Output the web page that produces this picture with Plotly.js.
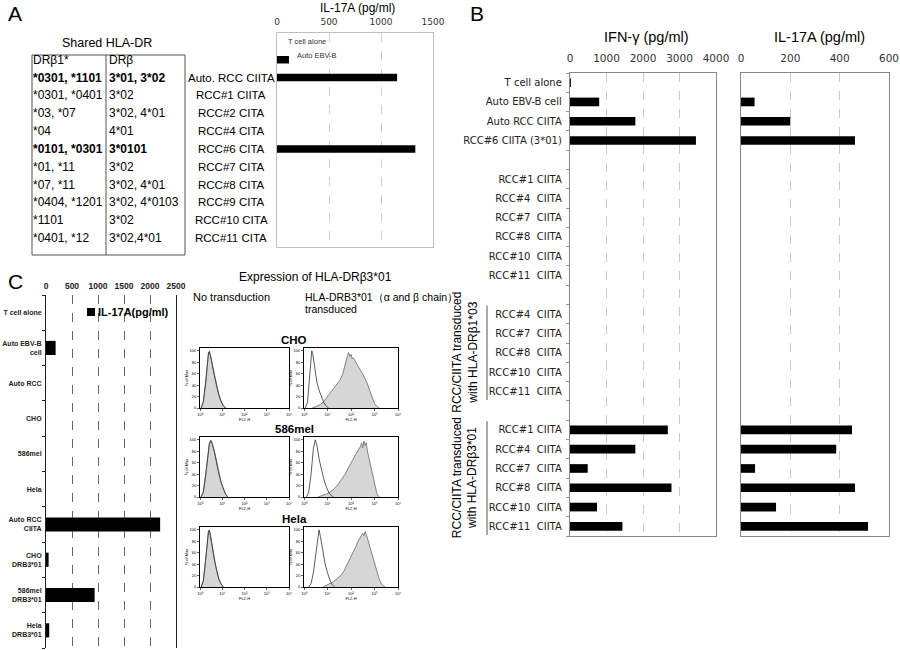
<!DOCTYPE html>
<html><head><meta charset="utf-8">
<script src="https://cdn.plot.ly/plotly-3.0.1.min.js"></script>
<style>body{margin:0;background:#fff}#chart{width:900px;height:650px}</style>
</head><body><div id="chart"></div>
<script>
// ---------------- Panel A data ----------------
const aCategories = ['T cell alone','Auto EBV-B','Auto. RCC CIITA','RCC#1 CIITA','RCC#2 CITA','RCC#4 CITA','RCC#6 CITA','RCC#7 CITA','RCC#8 CITA','RCC#9 CITA','RCC#10 CITA','RCC#11 CITA'];
const aIL17 = [0,115,1155,0,0,0,1330,0,0,0,0,0];
const aTicks = [0,500,1000,1500];
const aInsideLabels = ['T cell alone','Auto EBV-B'];
const tableHeader = ['DRβ1*','DRβ'];
const tableDRB1 = ['*0301, *1101','*0301, *0401','*03, *07','*04','*0101, *0301','*01, *11','*07, *11','*0404, *1201','*1101','*0401, *12'];
const tableDRB = ['3*01, 3*02','3*02','3*02, 4*01','4*01','3*0101','3*02','3*02, 4*01','3*02, 4*0103','3*02','3*02,4*01'];
const tableBoldRows = [0,4];

// ---------------- Panel B data ----------------
const S = '\u00a0\u00a0';
const bLabels = ['T cell alone','Auto EBV-B cell','Auto RCC CIITA','RCC#6 CIITA (3*01)','',
  'RCC#1 CIITA','RCC#4'+S+'CIITA','RCC#7'+S+'CIITA','RCC#8'+S+'CIITA','RCC#10'+S+'CIITA','RCC#11'+S+'CIITA','',
  'RCC#4'+S+'CIITA','RCC#7'+S+'CIITA','RCC#8'+S+'CIITA','RCC#10'+S+'CIITA','RCC#11'+S+'CIITA','',
  'RCC#1 CIITA','RCC#4'+S+'CIITA','RCC#7'+S+'CIITA','RCC#8'+S+'CIITA','RCC#10'+S+'CIITA','RCC#11'+S+'CIITA'];
const bIFNg = [25,800,1790,3450,null,0,0,0,0,0,0,null,0,0,0,0,0,null,2680,1790,485,2780,740,1435];
const bIL17 = [0,55,200,462,null,0,0,0,0,0,0,null,0,0,0,0,0,null,450,386,57,462,142,515];
const bIFNgTicks = [0,1000,2000,3000,4000];
const bIL17Ticks = [0,200,400,600];
const bGroupText = ['RCC/CIITA transduced<br>with HLA-DRβ1*03','RCC/CIITA transduced<br>with HLA-DRβ3*01'];
const bGroupFirst = [12,18];
const bGroupLast = [16,23];

// ---------------- Panel C data ----------------
const cCategories = ['T cell alone','Auto EBV-B<br>cell','Auto RCC','CHO','586mel','Hela','Auto RCC<br>CIITA','CHO<br>DRB3*01','586mel<br>DRB3*01','Hela<br>DRB3*01'];
const cIL17 = [0,185,0,0,0,0,2195,50,935,62];
const cTicks = [0,500,1000,1500,2000,2500];
const cellLines = ['CHO','586mel','Hela'];

// flow histograms (x = log10 FL2-H, y = % of max)
const choNoX   = [0.05,0.15,0.25,0.32,0.38,0.42,0.48,0.55,0.65,0.75,0.85,0.95,1.05,1.15];
const choNoY   = [0,10,40,75,95,100,92,78,58,40,24,12,4,0];
const choNoCtl = [0,12,44,80,97,98,90,75,55,38,22,11,4,0];
const melNoX   = [0.05,0.15,0.25,0.35,0.42,0.48,0.55,0.65,0.75,0.85,0.95,1.05,1.15,1.25];
const melNoY   = [0,8,35,70,92,100,95,80,60,42,26,14,5,0];
const melNoCtl = [0,9,38,72,94,98,92,78,58,40,25,13,5,0];
const helaNoX  = [0.05,0.15,0.25,0.32,0.38,0.42,0.48,0.55,0.65,0.75,0.85,0.95,1.05];
const helaNoY  = [0,10,45,80,97,100,90,72,48,28,14,5,0];
const helaNoCtl= [0,11,47,82,98,99,88,70,46,27,13,5,0];

const choTdX   = [0.35,0.5,0.7,0.85,1.0,1.15,1.3,1.45,1.55,1.65,1.72,1.8,1.85,1.9,1.95,2.0,2.05,2.1,2.2,2.3,2.4,2.5,2.6,2.7,2.8,2.9,3.0,3.1,3.2];
const choTdY   = [0,2,6,12,20,30,38,45,50,60,72,85,92,97,90,94,86,88,80,74,66,60,52,42,30,18,8,3,0];
const choCtlX  = [0.05,0.15,0.22,0.28,0.33,0.37,0.45,0.55,0.65,0.75,0.85,0.95,1.05];
const choCtlY  = [0,10,45,85,100,95,70,45,30,18,9,3,0];
const melTdX   = [0.6,0.8,1.0,1.15,1.3,1.45,1.6,1.75,1.9,2.0,2.1,2.2,2.3,2.4,2.45,2.5,2.55,2.6,2.65,2.7,2.8,2.9,3.0,3.1,3.2];
const melTdY   = [0,3,6,10,15,22,30,40,52,60,68,76,82,88,95,86,98,90,95,80,60,40,20,6,0];
const melCtlX  = [0.1,0.2,0.3,0.4,0.48,0.55,0.65,0.75,0.85,0.95,1.05,1.15,1.25];
const melCtlY  = [0,8,40,85,100,90,65,45,30,18,8,3,0];
const helaTdX  = [0.8,1.0,1.2,1.4,1.5,1.6,1.7,1.8,1.9,2.0,2.1,2.2,2.3,2.4,2.5,2.55,2.6,2.65,2.7,2.8,2.9,3.0,3.1,3.2,3.3,3.45];
const helaTdY  = [0,4,8,14,18,22,28,36,44,52,60,70,80,88,94,90,97,92,85,72,58,42,28,14,5,0];
const helaCtlX = [0.2,0.3,0.4,0.5,0.58,0.64,0.7,0.8,0.9,1.0,1.1,1.2,1.3];
const helaCtlY = [0,6,25,60,90,100,88,60,40,25,12,4,0];

// ---------------- build ----------------
const W = 900, H = 650;
const px = v => v / W, py = v => 1 - v / H;
const idx = arr => arr.map((_, i) => i);
const ARIAL = 'Liberation Sans, Arial, sans-serif';
const VERD = 'DejaVu Sans, Verdana, sans-serif';

const traces = [];
traces.push({type:'bar', orientation:'h', x:aIL17, y:idx(aCategories), xaxis:'x', yaxis:'y',
  marker:{color:'#000'}, width:0.42, hoverinfo:'skip'});
traces.push({type:'bar', orientation:'h', x:bIFNg, y:idx(bLabels), xaxis:'x2', yaxis:'y2',
  marker:{color:'#000'}, width:0.45, hoverinfo:'skip'});
traces.push({type:'bar', orientation:'h', x:bIL17, y:idx(bLabels), xaxis:'x3', yaxis:'y3',
  marker:{color:'#000'}, width:0.45, hoverinfo:'skip'});
traces.push({type:'bar', orientation:'h', x:cIL17, y:idx(cCategories), xaxis:'x4', yaxis:'y4',
  marker:{color:'#000'}, width:0.4, hoverinfo:'skip'});

const hist = [
  [choNoX, choNoY, choNoX, choNoCtl],
  [choTdX, choTdY, choCtlX, choCtlY],
  [melNoX, melNoY, melNoX, melNoCtl],
  [melTdX, melTdY, melCtlX, melCtlY],
  [helaNoX, helaNoY, helaNoX, helaNoCtl],
  [helaTdX, helaTdY, helaCtlX, helaCtlY]
];
const colX = [[200,289],[304,398]];
const rowY = [[348,408],[437,497],[527,587]];

const layout = {
  width:W, height:H, margin:{l:0,r:0,t:0,b:0}, paper_bgcolor:'#fff', plot_bgcolor:'rgba(0,0,0,0)',
  showlegend:false, font:{family:ARIAL, color:'#000'},
  xaxis:{domain:[px(277),px(433)], range:[0,1500], side:'top', anchor:'y', tickvals:aTicks,
    tickfont:{family:VERD,size:9,color:'#333'}, showgrid:true, gridcolor:'#d0d0d0', griddash:'dash',
    showline:true, linecolor:'#c0c0c0', mirror:true, zeroline:false, ticks:'', ticklabelstandoff:3},
  yaxis:{domain:[py(247),py(33)], range:[11.5,-0.5], anchor:'x', showticklabels:false, showgrid:false,
    zeroline:false, showline:true, linecolor:'#c0c0c0', mirror:true, ticks:''},
  xaxis2:{domain:[px(570),px(716)], range:[0,4000], side:'top', anchor:'y2', tickvals:bIFNgTicks,
    tickfont:{family:VERD,size:10.5,color:'#333'}, showgrid:true, gridcolor:'#c8c8c8', griddash:'dash',
    showline:true, linecolor:'#888', linewidth:1.2, mirror:true, zeroline:false, ticks:'', ticklabelstandoff:6},
  yaxis2:{domain:[py(536),py(73)], range:[23.5,-0.5], anchor:'x2', tickvals:idx(bLabels), ticktext:bLabels,
    tickfont:{family:VERD,size:10,color:'#222'}, showgrid:false, zeroline:false, showline:true,
    linecolor:'#888', linewidth:1.2, mirror:true, ticks:'', ticklabelstandoff:5,
    minor:{ticks:'outside', ticklen:3, tick0:0.5, dtick:1, tickcolor:'#999', showgrid:false}},
  xaxis3:{domain:[px(741),px(889)], range:[0,600], side:'top', anchor:'y3', tickvals:bIL17Ticks,
    tickfont:{family:VERD,size:10.5,color:'#333'}, showgrid:true, gridcolor:'#c8c8c8', griddash:'dash',
    showline:true, linecolor:'#888', linewidth:1.2, mirror:true, zeroline:false, ticks:'', ticklabelstandoff:6},
  yaxis3:{domain:[py(536),py(73)], range:[23.5,-0.5], anchor:'x3', showticklabels:false, showgrid:false,
    zeroline:false, showline:true, linecolor:'#888', linewidth:1.2, mirror:true, ticks:''},
  xaxis4:{domain:[px(46),px(176)], range:[0,2500], side:'top', anchor:'y4', tickvals:cTicks,
    tickfont:{family:ARIAL,size:8.5,weight:'bold',color:'#222'}, showgrid:true, gridcolor:'#666',
    griddash:'dash', showline:false, zeroline:false, ticks:'', ticklabelstandoff:3},
  yaxis4:{domain:[py(648),py(295)], range:[9.5,-0.5], anchor:'x4', tickvals:idx(cCategories), ticktext:cCategories,
    tickfont:{family:ARIAL,size:7,weight:'bold',color:'#222'}, showgrid:false, zeroline:false,
    showline:true, linecolor:'#222', mirror:true, ticks:'', ticklabelstandoff:2,
    minor:{ticks:'outside', ticklen:3, tick0:0.5, dtick:1, tickcolor:'#222', showgrid:false}},
  shapes:[], annotations:[]
};

hist.forEach((h, k) => {
  const n = 5 + k;
  const col = k % 2, row = Math.floor(k / 2);
  layout['xaxis'+n] = {domain:[px(colX[col][0]),px(colX[col][1])], range:[0,4], anchor:'y'+n,
    tickvals:[0,1,2,3,4], ticktext:['10⁰','10¹','10²','10³','10⁴'], tickfont:{size:4,family:ARIAL},
    ticks:'outside', ticklen:2, tickwidth:0.8, showline:true, mirror:true, linecolor:'#000', linewidth:1,
    showgrid:false, zeroline:false, title:{text:'FL2-H', font:{size:4}, standoff:1}};
  layout['yaxis'+n] = {domain:[py(rowY[row][1]),py(rowY[row][0])], range:[0,105], anchor:'x'+n,
    tickvals:[0,20,40,60,80,100], tickfont:{size:4,family:ARIAL}, ticks:'outside', ticklen:2, tickwidth:0.8,
    showline:true, mirror:true, linecolor:'#000', linewidth:1, showgrid:false, zeroline:false,
    title:{text:'% of Max', font:{size:4}, standoff:1}};
  traces.push({type:'scatter', mode:'lines', x:h[0], y:h[1], xaxis:'x'+n, yaxis:'y'+n, fill:'tozeroy',
    fillcolor:'#d6d6d6', line:{color:'#777', width:0.9}, hoverinfo:'skip'});
  traces.push({type:'scatter', mode:'lines', x:h[2], y:h[3], xaxis:'x'+n, yaxis:'y'+n,
    line:{color:'#333', width:0.8}, hoverinfo:'skip'});
});

const ann = layout.annotations, shp = layout.shapes;
function T(text, x, y, size, opt) {
  ann.push(Object.assign({text, x:px(x), y:py(y), xref:'paper', yref:'paper', showarrow:false,
    xanchor:'center', yanchor:'middle', font:{family:ARIAL, size, color:'#000'}}, opt || {}));
}
// panel letters
T('A', 15, 14, 21); T('B', 477, 14, 21); T('C', 15, 281, 21);

// Panel A table
T('Shared HLA-DR', 107, 43, 12.5);
shp.push({type:'rect', xref:'paper', yref:'paper', x0:px(32), x1:px(185), y0:py(55), y1:py(255), line:{color:'#555', width:1}});
shp.push({type:'line', xref:'paper', yref:'paper', x0:px(106), x1:px(106), y0:py(55), y1:py(255), line:{color:'#555', width:1}});
[[tableHeader[0],31],[tableHeader[1],107]].forEach(([t,x]) =>
  ann.push({text:t, x:px(x), y:1, xref:'paper', yref:'y', xanchor:'left', yanchor:'middle', showarrow:false, font:{family:ARIAL,size:12,color:'#000'}}));
tableDRB1.forEach((t, i) => {
  const b = tableBoldRows.includes(i);
  ann.push({text:b?'<b>'+t+'</b>':t, x:px(31), y:i+2, xref:'paper', yref:'y', xanchor:'left', yanchor:'middle', showarrow:false, font:{family:ARIAL,size:12,color:'#000'}});
  ann.push({text:b?'<b>'+tableDRB[i]+'</b>':tableDRB[i], x:px(107), y:i+2, xref:'paper', yref:'y', xanchor:'left', yanchor:'middle', showarrow:false, font:{family:ARIAL,size:12,color:'#000'}});
});
aCategories.slice(2).forEach((t, i) =>
  ann.push({text:t, x:px(231), y:i+2, xref:'paper', yref:'y', xanchor:'center', yanchor:'middle', showarrow:false, font:{family:ARIAL,size:11.5,color:'#000'}}));
ann.push({text:aInsideLabels[0], x:px(286), y:0, xref:'paper', yref:'y', xanchor:'left', yanchor:'middle', showarrow:false, font:{family:ARIAL,size:7.5,color:'#333'}});
ann.push({text:aInsideLabels[1], x:px(295), y:0.75, xref:'paper', yref:'y', xanchor:'left', yanchor:'middle', showarrow:false, font:{family:ARIAL,size:7.5,color:'#333'}});
T('IL-17A (pg/ml)', 357, 8, 12);

// Panel B titles and groups
T('IFN-γ (pg/ml)', 646, 37, 14.5);
T('IL-17A (pg/ml)', 819, 37, 14.5);
bGroupText.forEach((t, g) => {
  shp.push({type:'line', xref:'paper', yref:'y2', x0:px(487), x1:px(487), y0:bGroupFirst[g]-0.45, y1:bGroupLast[g]+0.45, line:{color:'#555', width:1}});
  ann.push({text:t, x:px(465), y:(bGroupFirst[g]+bGroupLast[g])/2, xref:'paper', yref:'y2', textangle:-90,
    xanchor:'center', yanchor:'middle', showarrow:false, font:{family:ARIAL,size:12,color:'#000'}});
});

// Panel C legend
shp.push({type:'rect', xref:'paper', yref:'paper', x0:px(87), x1:px(95), y0:py(308), y1:py(316), fillcolor:'#000', line:{width:0}});
T('<b>IL-17A(pg/ml)</b>', 96, 312, 11, {xanchor:'left'});

// flow titles
T('Expression of HLA-DRβ3*01', 315, 277, 12);
T('No transduction', 191, 297, 11, {xanchor:'left'});
T('HLA-DRB3*01（α and β chain）', 303, 297, 10.5, {xanchor:'left'});
T('transduced', 303, 309, 10.5, {xanchor:'left'});
cellLines.forEach((t, r) => T('<b>'+t+'</b>', 294, rowY[r][0]-8, 11.5));

Plotly.newPlot('chart', traces, layout, {displayModeBar:false, staticPlot:true});
</script></body></html>
